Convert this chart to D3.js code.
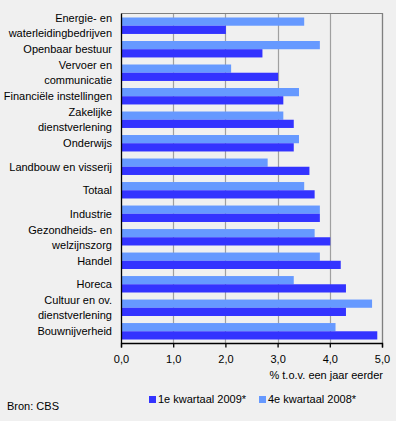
<!DOCTYPE html>
<html>
<head>
<meta charset="utf-8">
<script src="https://cdn.jsdelivr.net/npm/d3@7"></script>
<style>
  body { margin: 0; background: #f0f0f0; }
  svg { display: block; font-family: "Liberation Sans", Arial, sans-serif; font-size: 11px; }
</style>
</head>
<body>
<div id="chart"></div>
<script>
const categories = [
  'Energie- en\nwaterleidingbedrijven',
  'Openbaar bestuur',
  'Vervoer en\ncommunicatie',
  'Financiële instellingen',
  'Zakelijke\ndienstverlening',
  'Onderwijs',
  'Landbouw en visserij',
  'Totaal',
  'Industrie',
  'Gezondheids- en\nwelzijnszorg',
  'Handel',
  'Horeca',
  'Cultuur en ov.\ndienstverlening',
  'Bouwnijverheid'
];
const q1_2009 = [2.0, 2.7, 3.0, 3.1, 3.3, 3.3, 3.6, 3.7, 3.8, 4.0, 4.2, 4.3, 4.3, 4.9];
const q4_2008 = [3.5, 3.8, 2.1, 3.4, 3.1, 3.4, 2.8, 3.5, 3.8, 3.7, 3.8, 3.3, 4.8, 4.1];
const seriesNames = ['1e kwartaal 2009*', '4e kwartaal 2008*'];
const xTicks = [0, 1, 2, 3, 4, 5];

const width = 396;
const height = 421;
const dark = '#3333ff';
const light = '#6699ff';

const plotLeft = 121.5, plotRight = 382.5, plotTop = 13.5, plotBottom = 343.5;

const svg = d3.select('#chart')
  .append('svg')
  .attr('width', width)
  .attr('height', height);

const x = d3.scaleLinear().domain([0, 5]).range([plotLeft, plotRight]);
const y = d3.scaleBand().domain(categories).range([plotTop, plotBottom])
  .paddingInner(0.3).paddingOuter(0.17);
// light series on top, dark below
const sub = d3.scaleBand().domain(['q4', 'q1']).range([0, y.bandwidth()]);

const nl = d3.formatLocale({ decimal: ',', thousands: '.', grouping: [3], currency: ['€', ''] });
const fmt = nl.format('.1f');

// gridlines
svg.append('g')
  .selectAll('line')
  .data(xTicks.slice(1))
  .join('line')
  .attr('x1', d => Math.floor(x(d)) + 0.5).attr('x2', d => Math.floor(x(d)) + 0.5)
  .attr('y1', plotTop).attr('y2', plotBottom)
  .attr('stroke', '#a0a0a0')
  .attr('stroke-width', 1.2);

// frame top/right
svg.append('path')
  .attr('d', `M${plotLeft},${plotTop}H${plotRight}V${plotBottom}`)
  .attr('fill', 'none')
  .attr('stroke', '#808080')
  .attr('stroke-width', 1.2);

const rows = categories.map((c, i) => ({ cat: c, q1: q1_2009[i], q4: q4_2008[i] }));

const groups = svg.append('g')
  .selectAll('g')
  .data(rows)
  .join('g')
  .attr('transform', d => `translate(0,${y(d.cat)})`);

groups.append('rect')
  .attr('x', x(0))
  .attr('y', sub('q4'))
  .attr('width', d => x(d.q4) - x(0))
  .attr('height', sub.bandwidth())
  .attr('fill', light);

groups.append('rect')
  .attr('x', x(0))
  .attr('y', sub('q1'))
  .attr('width', d => x(d.q1) - x(0))
  .attr('height', sub.bandwidth())
  .attr('fill', dark);

// category labels
const labels = svg.append('g')
  .selectAll('text')
  .data(categories)
  .join('text')
  .attr('text-anchor', 'end')
  .attr('fill', '#000');

labels.each(function (d) {
  const lines = d.split('\n');
  const cy = y(d) + y.bandwidth() / 2;
  const t = d3.select(this);
  lines.forEach((line, i) => {
    t.append('tspan')
      .attr('x', 112)
      .attr('y', cy + (i - (lines.length - 1) / 2) * 15)
      .attr('dy', '0.35em')
      .text(line);
  });
});

// x axis
const xAxis = svg.append('g')
  .attr('transform', `translate(0,${plotBottom})`)
  .call(d3.axisBottom(x).tickValues(xTicks).tickFormat(fmt).tickSize(4).tickPadding(8).offset(0));
xAxis.select('.domain').attr('stroke', '#000').attr('stroke-width', 1.3);
xAxis.selectAll('.tick line').attr('stroke', '#000').attr('stroke-width', 1.3);
xAxis.selectAll('text').attr('fill', '#000').style('font-size', '11px')
  .style('font-family', '"Liberation Sans", Arial, sans-serif');

// y axis line
svg.append('line')
  .attr('x1', plotLeft).attr('x2', plotLeft)
  .attr('y1', plotTop).attr('y2', plotBottom)
  .attr('stroke', '#000')
  .attr('stroke-width', 1.3);

svg.append('text')
  .attr('x', 383)
  .attr('y', 375)
  .attr('dy', '0.35em')
  .attr('text-anchor', 'end')
  .text('% t.o.v. een jaar eerder');

// legend
const legend = svg.append('g')
  .selectAll('g')
  .data(seriesNames)
  .join('g')
  .attr('transform', (d, i) => `translate(${[149, 259][i]},396)`);
legend.append('rect')
  .attr('width', 7).attr('height', 7)
  .attr('fill', (d, i) => (i === 0 ? dark : light));
legend.append('text')
  .attr('x', 9)
  .attr('y', 3.5)
  .attr('dy', '0.35em')
  .text(d => d);

svg.append('text')
  .attr('x', 7)
  .attr('y', 406)
  .attr('dy', '0.35em')
  .text('Bron: CBS');
</script>
</body>
</html>
